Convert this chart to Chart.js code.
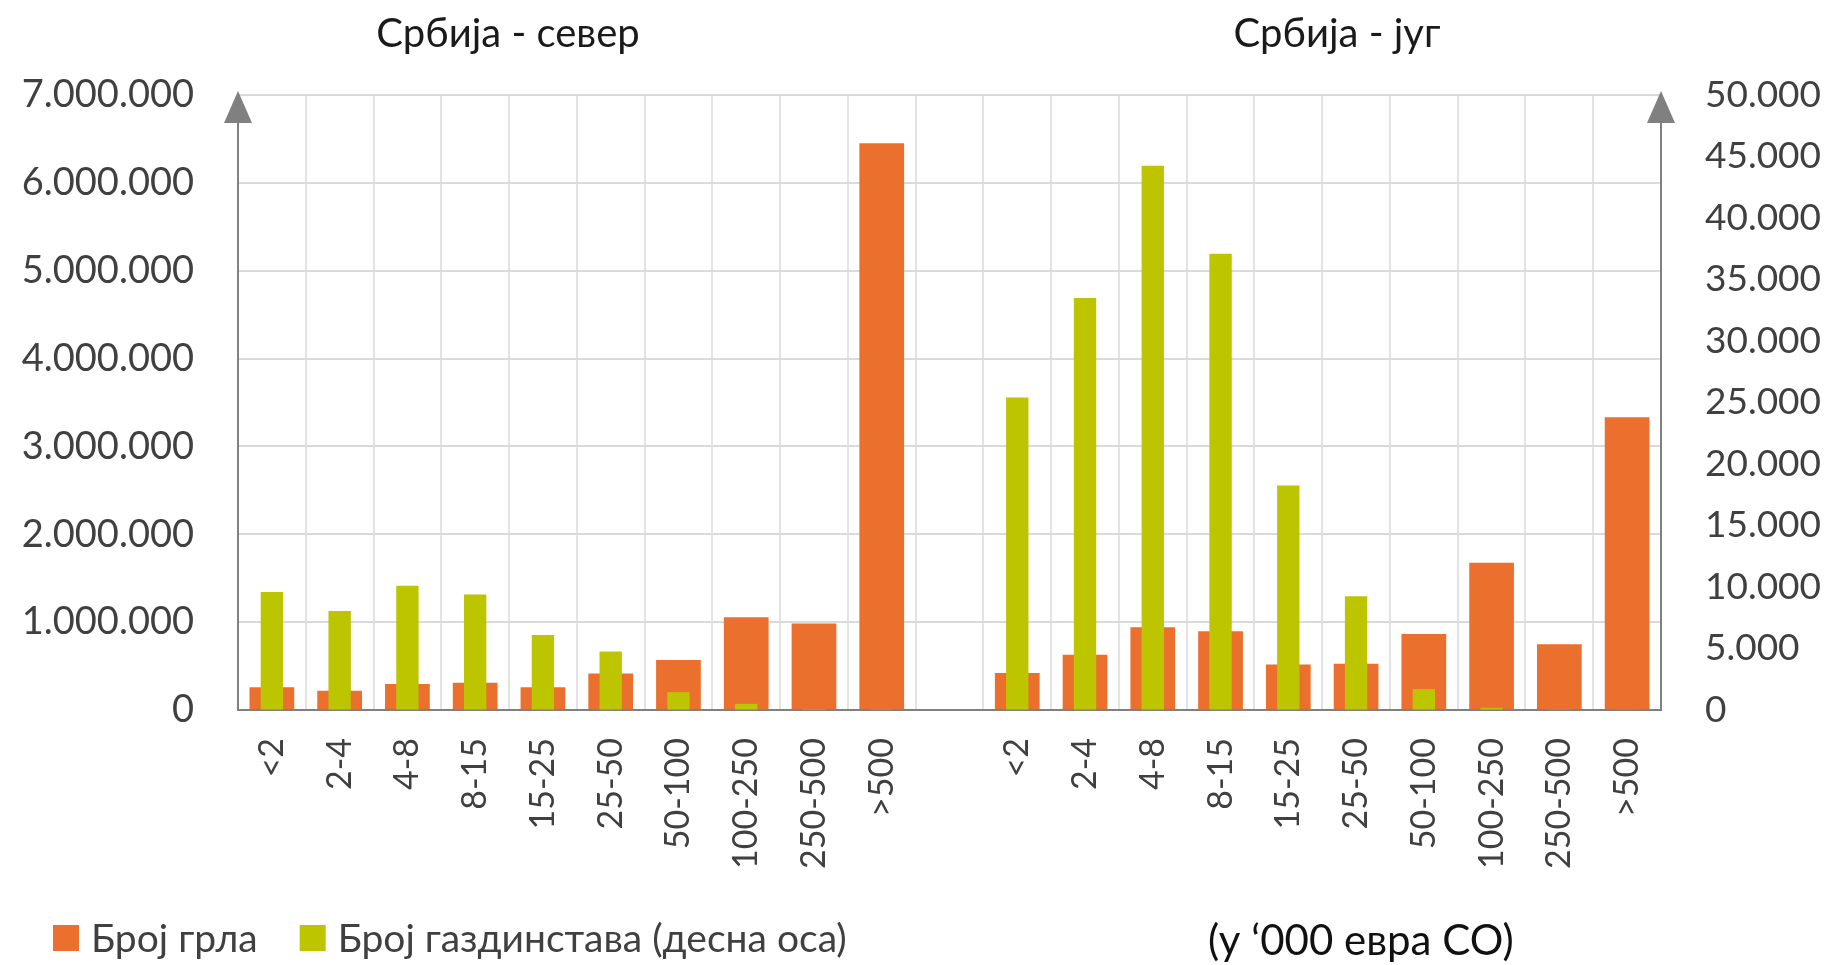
<!DOCTYPE html>
<html>
<head>
<meta charset="utf-8">
<script src="https://cdn.jsdelivr.net/npm/chart.js@4.4.1/dist/chart.umd.min.js"></script>
<style>
    html, body { margin: 0; padding: 0; background: #fff; }
    canvas { display: block; }
</style>
</head>
<body>
<canvas id="chart" width="1834" height="965"></canvas>
<script>
// size classes (in '000 EUR SO), same for both regions
const sizeLabels = ["<2", "2-4", "4-8", "8-15", "15-25", "25-50", "50-100", "100-250", "250-500", ">500"];

// Број грла (left axis)
const northHead = [260000, 220000, 295000, 310000, 260000, 415000, 570000, 1055000, 985000, 6450000];
const southHead = [420000, 630000, 942000, 897000, 518000, 527000, 866000, 1675000, 749000, 3333000];

// Број газдинстава (right axis)
const northFarms = [9600, 8050, 10100, 9400, 6100, 4750, 1450, 500, 80, 20];
const southFarms = [25400, 33500, 44250, 37100, 18250, 9250, 1700, 180, 60, 30];

const panelTitles = ["Србија - север", "Србија - југ"];
const seriesNames = ["Број грла", "Број газдинстава (десна оса)"];
const unitNote = "(у ‘000 евра СО)";

const ORANGE = "#EB6F2D";
const GREEN = "#BDC400";
const AXIS_GRAY = "#808080";

// one category axis, empty slot between the two regions
const allLabels = [...sizeLabels, "", ...sizeLabels];
const headData = [...northHead, null, ...southHead];
const farmData = [...northFarms, null, ...southFarms];

function dots(v) {
    return String(v).replace(/\B(?=(\d{3})+(?!\d))/g, ".");
}

const decorations = {
    id: "decorations",
    afterDraw(chart) {
        const ctx = chart.ctx;
        const area = chart.chartArea;
        ctx.save();

        // arrow heads on both value axes
        ctx.fillStyle = AXIS_GRAY;
        [area.left, area.right].forEach(x => {
            ctx.beginPath();
            ctx.moveTo(x, area.top - 4);
            ctx.lineTo(x - 14, area.top + 28);
            ctx.lineTo(x + 14, area.top + 28);
            ctx.closePath();
            ctx.fill();
        });

        // panel titles
        ctx.fillStyle = "#1a1a1a";
        ctx.font = "40px Lato";
        ctx.textAlign = "center";
        ctx.textBaseline = "alphabetic";
        ctx.fillText(panelTitles[0], 508, 47);
        ctx.fillText(panelTitles[1], 1337, 47);

        // unit note
        ctx.textAlign = "left";
        ctx.font = "42px Lato";
        ctx.fillStyle = "#111";
        ctx.fillText(unitNote, 1208, 955);

        // legend
        ctx.font = "39px Lato";
        ctx.textBaseline = "middle";
        let x = 53;
        const y = 938;
        chart.data.datasets.forEach(ds => {
            ctx.fillStyle = ds.backgroundColor;
            ctx.fillRect(x, y - 13, 26, 26);
            ctx.fillStyle = "#404040";
            ctx.fillText(ds.label, x + 38, y + 1);
            x += 38 + ctx.measureText(ds.label).width + 42;
        });

        ctx.restore();
    }
};

const chart = new Chart(document.getElementById("chart").getContext("2d"), {
    type: "bar",
    data: {
        labels: allLabels,
        datasets: [
            {
                label: seriesNames[0],
                data: headData,
                backgroundColor: ORANGE,
                yAxisID: "y",
                grouped: false,
                categoryPercentage: 1,
                barPercentage: 0.66,
                order: 1
            },
            {
                label: seriesNames[1],
                data: farmData,
                backgroundColor: GREEN,
                yAxisID: "y1",
                grouped: false,
                categoryPercentage: 1,
                barPercentage: 0.33,
                order: 0
            }
        ]
    },
    options: {
        responsive: false,
        animation: false,
        devicePixelRatio: 1,
        layout: { padding: { top: 95, bottom: 95, left: 0, right: 0 } },
        plugins: {
            legend: { display: false },
            title: { display: false },
            tooltip: { enabled: false }
        },
        scales: {
            x: {
                grid: { color: "#e3e3e3", lineWidth: 2, drawTicks: false, offset: true },
                border: { color: AXIS_GRAY, width: 2 },
                ticks: {
                    autoSkip: false,
                    minRotation: 90,
                    maxRotation: 90,
                    padding: 28,
                    color: "#404040",
                    font: { family: "Lato", size: 34 }
                },
                afterFit(scale) { scale.height = 160; }
            },
            y: {
                position: "left",
                min: 0,
                max: 7000000,
                grid: { color: "#dadada", lineWidth: 2, drawTicks: false },
                border: { color: AXIS_GRAY, width: 2 },
                ticks: {
                    stepSize: 1000000,
                    padding: 44,
                    color: "#404040",
                    font: { family: "Lato", size: 38 },
                    callback: v => dots(v)
                },
                afterFit(scale) { scale.width = 238; }
            },
            y1: {
                position: "right",
                min: 0,
                max: 50000,
                grid: { drawOnChartArea: false, drawTicks: false },
                border: { color: AXIS_GRAY, width: 2 },
                ticks: {
                    stepSize: 5000,
                    padding: 44,
                    color: "#404040",
                    font: { family: "Lato", size: 37 },
                    callback: v => dots(v)
                },
                afterFit(scale) { scale.width = 173; }
            }
        }
    },
    plugins: [decorations]
});
</script>
</body>
</html>
